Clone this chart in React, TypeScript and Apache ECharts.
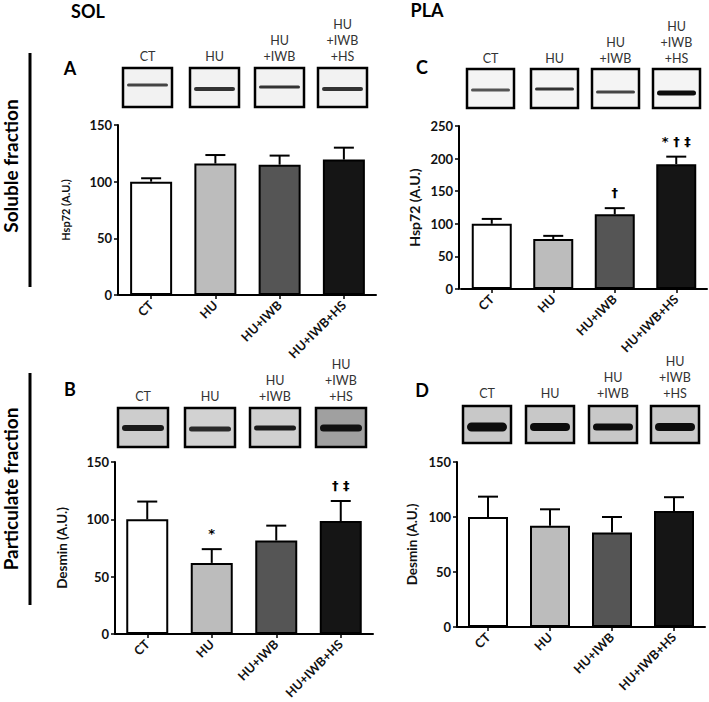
import React, { useEffect, useRef } from "react";
import * as echarts from "echarts";

const categories = ["CT", "HU", "HU+IWB", "HU+IWB+HS"];
const blotLabels = ["CT", "HU", "HU\n+IWB", "HU\n+IWB\n+HS"];
const barColors = ["#ffffff", "#bcbcbc", "#555555", "#151515"];

// SOL soluble fraction: Hsp72
const solHsp72 = [100, 116, 115, 119.5];
const solHsp72Sd = [3, 7.5, 8, 10.5];
const solHsp72Ann = ["", "", "", ""];
// SOL particulate fraction: Desmin
const solDesmin = [100, 62, 81.5, 98.5];
const solDesminSd = [15.5, 12, 13, 17.5];
const solDesminAnn = ["", "*", "", "† ‡"];
// PLA soluble fraction: Hsp72
const plaHsp72 = [100, 76.5, 114.5, 191.5];
const plaHsp72Sd = [7.5, 5, 9.5, 11.5];
const plaHsp72Ann = ["", "", "†", "* † ‡"];
// PLA particulate fraction: Desmin
const plaDesmin = [100, 92, 86, 105.5];
const plaDesminSd = [18.5, 15, 14, 12.5];
const plaDesminAnn = ["", "", "", ""];

const FONT = "Lato";
const SYMFONT = "DejaVu Sans";

type Panel = {
  vals: number[]; sds: number[]; ann: string[];
  left: number; top: number; width: number; height: number;
  max: number; yName: string; nameSize: number; nameGap: number; barWidth: number; yOffset: number;
};

const panels: Panel[] = [
  { vals: solHsp72, sds: solHsp72Sd, ann: solHsp72Ann, left: 119, top: 125, width: 257, height: 170, max: 150, yName: "Hsp72 (A.U.)", nameSize: 11, nameGap: 47, barWidth: 42, yOffset: 1 },
  { vals: solDesmin, sds: solDesminSd, ann: solDesminAnn, left: 115, top: 462, width: 258, height: 172, max: 150, yName: "Desmin (A.U.)", nameSize: 13.5, nameGap: 46, barWidth: 42, yOffset: 0 },
  { vals: plaHsp72, sds: plaHsp72Sd, ann: plaHsp72Ann, left: 461, top: 126, width: 246, height: 163, max: 250, yName: "Hsp72 (A.U.)", nameSize: 14, nameGap: 38, barWidth: 40, yOffset: 2 },
  { vals: plaDesmin, sds: plaDesminSd, ann: plaDesminAnn, left: 457, top: 462, width: 248, height: 165, max: 150, yName: "Desmin (A.U.)", nameSize: 13.5, nameGap: 38, barWidth: 40, yOffset: 0 },
];

type Blot = {
  lefts: number[]; top: number; w: number; h: number; bg: string[];
  bandY: number[]; bandH: number[]; bandColor: string[]; labelBottom: number; letter: string; lx: number; ly: number;
};

const blots: Blot[] = [
  { lefts: [123, 190, 255, 318], top: 68, w: 49, h: 39, bg: ["#f2f2f2", "#f2f2f2", "#f2f2f2", "#f2f2f2"], bandY: [85, 89, 87, 89], bandH: [3, 4, 3, 4], bandColor: ["#444", "#333", "#333", "#333"], labelBottom: 56, letter: "A", lx: 70, ly: 68 },
  { lefts: [118, 185, 250, 316], top: 408, w: 50, h: 39, bg: ["#cdcdcd", "#d2d2d2", "#d0d0d0", "#a0a0a0"], bandY: [428, 429, 428, 428], bandH: [6, 5, 5, 7], bandColor: ["#1a1a1a", "#2a2a2a", "#1a1a1a", "#111"], labelBottom: 396, letter: "B", lx: 70, ly: 389 },
  { lefts: [467, 531, 592, 653], top: 69, w: 47, h: 39, bg: ["#f4f4f4", "#f4f4f4", "#f4f4f4", "#f4f4f4"], bandY: [90, 89, 92, 93], bandH: [3, 3, 3, 5], bandColor: ["#555", "#333", "#444", "#0d0d0d"], labelBottom: 58, letter: "C", lx: 422, ly: 67 },
  { lefts: [463, 526, 589, 651], top: 406, w: 48, h: 37, bg: ["#c8c8c8", "#c8c8c8", "#c8c8c8", "#c8c8c8"], bandY: [427, 427, 427, 427], bandH: [9, 8, 7, 8], bandColor: ["#0d0d0d", "#0d0d0d", "#0d0d0d", "#0d0d0d"], labelBottom: 393, letter: "D", lx: 422, ly: 390 },
];

function buildOption() {
  const grid: any[] = [], xAxis: any[] = [], yAxis: any[] = [], series: any[] = [];
  panels.forEach((p, k) => {
    grid.push({ left: p.left, top: p.top, width: p.width, height: p.height, containLabel: false });
    xAxis.push({
      type: "category", gridIndex: k, data: categories,
      axisLine: { lineStyle: { color: "#000", width: 2 } },
      axisTick: { show: true, alignWithLabel: true, length: 4, lineStyle: { color: "#000", width: 1.5 } },
      axisLabel: { rotate: 45, fontFamily: FONT, fontWeight: "bold", fontSize: 12.5, color: "#111", margin: 8, interval: 0 },
    });
    yAxis.push({
      type: "value", gridIndex: k, min: 0, max: p.max, interval: 50, offset: p.yOffset,
      name: p.yName, nameLocation: "middle", nameGap: p.nameGap, nameRotate: 90,
      nameTextStyle: { fontFamily: FONT, fontWeight: "bold", fontSize: p.nameSize, color: "#111" },
      axisLine: { show: true, lineStyle: { color: "#000", width: 2 } },
      axisTick: { show: true, length: 4, lineStyle: { color: "#000", width: 1.5 } },
      splitLine: { show: false },
      axisLabel: { fontFamily: FONT, fontWeight: "bold", fontSize: 13, color: "#111", margin: 6 },
    });
    series.push({
      type: "bar", xAxisIndex: k, yAxisIndex: k, barWidth: p.barWidth,
      data: p.vals.map((v, i) => ({ value: v, itemStyle: { color: barColors[i] } })),
      itemStyle: { borderColor: "#000", borderWidth: 2 },
      z: 2,
    });
    const ann = p.ann;
    series.push({
      type: "custom", xAxisIndex: k, yAxisIndex: k, z: 3,
      data: p.vals.map((v, i) => [i, v, v + p.sds[i]]),
      encode: { x: 0, y: [1, 2] },
      renderItem: (params: any, api: any) => {
        const i = api.value(0);
        const a = api.coord([i, api.value(1)]);
        const b = api.coord([i, api.value(2)]);
        const cap = 10;
        const children: any[] = [
          { type: "line", shape: { x1: a[0], y1: a[1], x2: b[0], y2: b[1] }, style: { stroke: "#000", lineWidth: 2 } },
          { type: "line", shape: { x1: b[0] - cap, y1: b[1], x2: b[0] + cap, y2: b[1] }, style: { stroke: "#000", lineWidth: 2 } },
        ];
        const t = ann[params.dataIndex];
        if (t) {
          children.push({
            type: "text", x: b[0], y: b[1] - 9,
            style: { text: t, fontFamily: SYMFONT, fontWeight: "bold", fontSize: 13, fill: "#000", align: "center", verticalAlign: "bottom" },
          });
        }
        return { type: "group", children };
      },
    });
  });

  const graphic: any[] = [];
  graphic.push({ type: "text", x: 88, y: 11, style: { text: "SOL", fontFamily: FONT, fontWeight: "bold", fontSize: 18, fill: "#000", align: "center", verticalAlign: "middle" } });
  graphic.push({ type: "text", x: 427, y: 10, style: { text: "PLA", fontFamily: FONT, fontWeight: "bold", fontSize: 18, fill: "#000", align: "center", verticalAlign: "middle" } });
  graphic.push({ type: "line", shape: { x1: 30, y1: 53, x2: 30, y2: 287 }, style: { stroke: "#000", lineWidth: 3 } });
  graphic.push({ type: "line", shape: { x1: 30, y1: 373, x2: 30, y2: 605 }, style: { stroke: "#000", lineWidth: 3 } });
  graphic.push({ type: "text", x: 10, y: 166, rotation: Math.PI / 2, style: { text: "Soluble fraction", fontFamily: FONT, fontWeight: "bold", fontSize: 19, fill: "#000", align: "center", verticalAlign: "middle" } });
  graphic.push({ type: "text", x: 10, y: 489, rotation: Math.PI / 2, style: { text: "Particulate fraction", fontFamily: FONT, fontWeight: "bold", fontSize: 19, fill: "#000", align: "center", verticalAlign: "middle" } });

  blots.forEach((b) => {
    graphic.push({ type: "text", x: b.lx, y: b.ly, style: { text: b.letter, fontFamily: FONT, fontWeight: "bold", fontSize: 18, fill: "#000", align: "center", verticalAlign: "middle" } });
    b.lefts.forEach((l, i) => {
      graphic.push({ type: "rect", shape: { x: l, y: b.top, width: b.w, height: b.h }, style: { fill: b.bg[i], stroke: "#000", lineWidth: 2.5 } });
      graphic.push({ type: "rect", shape: { x: l + 4, y: b.bandY[i] - b.bandH[i] / 2, width: b.w - 8, height: b.bandH[i], r: b.bandH[i] / 2 }, style: { fill: b.bandColor[i] } });
      const lines = blotLabels[i].split("\n");
      lines.forEach((ln, j) => {
        graphic.push({ type: "text", x: l + b.w / 2, y: b.labelBottom - (lines.length - 1 - j) * 16, style: { text: ln, fontFamily: FONT, fontSize: 12.5, fill: "#333", align: "center", verticalAlign: "middle" } });
      });
    });
  });

  return { animation: false, backgroundColor: "#fff", grid, xAxis, yAxis, series, graphic };
}

export default function App() {
  const ref = useRef<HTMLDivElement>(null);
  useEffect(() => {
    document.body.style.margin = "0";
    if (!ref.current) return;
    const chart = echarts.init(ref.current, undefined, { renderer: "svg" });
    chart.setOption(buildOption() as any);
    return () => chart.dispose();
  }, []);
  return <div ref={ref} style={{ width: 709, height: 702 }} />;
}
